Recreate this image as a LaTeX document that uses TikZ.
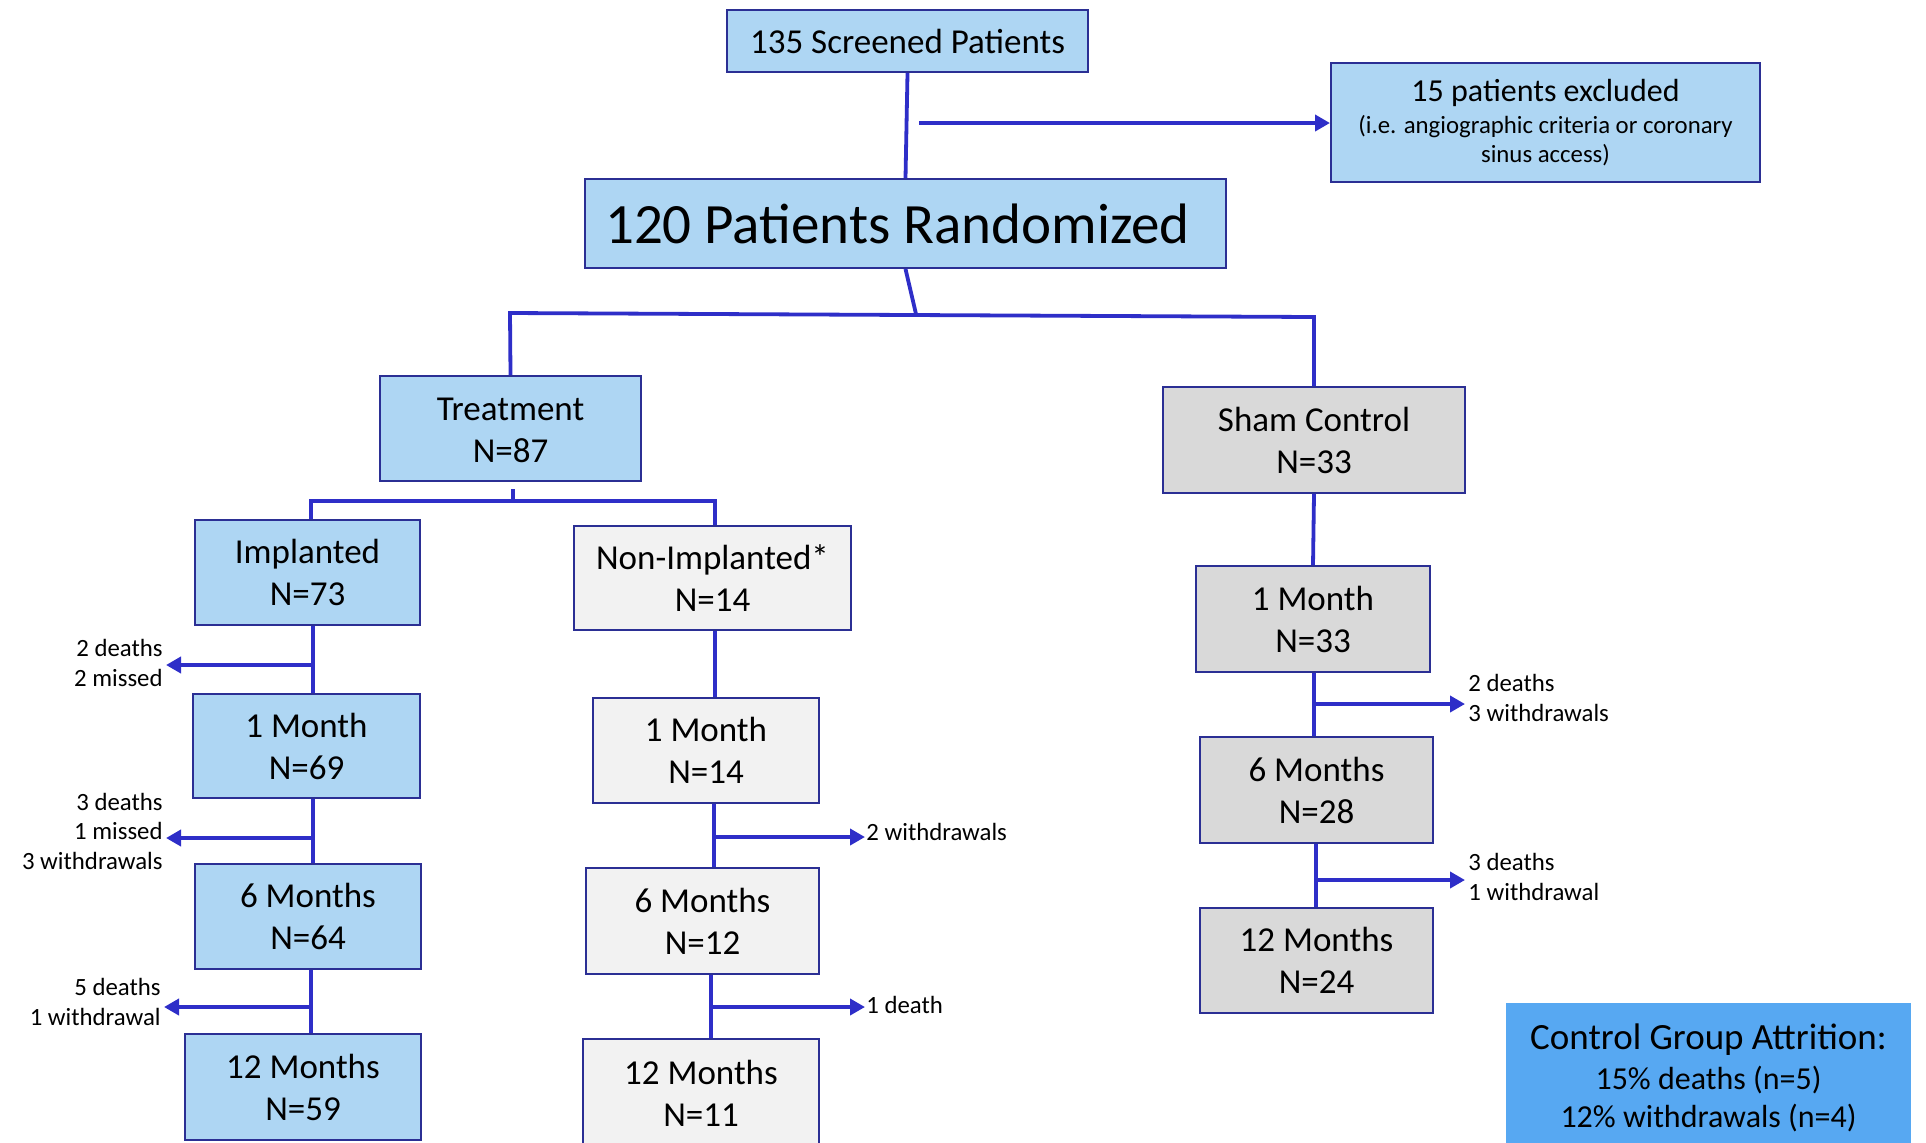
\documentclass[tikz,border=0pt]{standalone}
\usepackage{fontspec}
\setmainfont{Carlito}
\usetikzlibrary{arrows.meta}
\definecolor{lblue}{HTML}{AED6F3}
\definecolor{lgrey}{HTML}{F2F2F2}
\definecolor{mgrey}{HTML}{D9D9D9}
\definecolor{attrc}{HTML}{57A8F2}
\definecolor{bordc}{HTML}{2B2F94}
\definecolor{connc}{HTML}{2E2EC8}
\tikzset{
  base/.style={draw=bordc, line width=1pt, inner sep=0pt, align=center, text=black,
    font=\fontsize{17.5}{21}\selectfont},
  bluebox/.style={base, fill=lblue},
  greybox/.style={base, fill=mgrey},
  lightbox/.style={base, fill=lgrey},
  wh/.style 2 args={minimum width=#1*0.5pt, minimum height=#2*0.5pt},
  conn/.style={draw=connc, line width=1.9pt},
  arr/.style={draw=connc, line width=1.9pt, -{Triangle[length=7.5pt,width=8pt]}},
  lblL/.style={anchor=east, align=right, inner sep=0pt, font=\fontsize{12.4}{14.75}\selectfont},
  lblR/.style={anchor=west, align=left, inner sep=0pt, font=\fontsize{12.4}{14.75}\selectfont}
}
\begin{document}
\begin{tikzpicture}[x=0.5pt,y=-0.5pt]
\useasboundingbox (0,0) rectangle (1926,1142);
\clip (0,0) rectangle (1926,1142);

% top
\node[bluebox, wh={361}{62}] (scr) at (907.5,41) {135 Screened Patients};
\node[bluebox, wh={429}{119}, font=\fontsize{12.4}{14.5}\selectfont] (excl) at (1545.5,122.5)
  {{\fontsize{16}{19}\selectfont 15 patients excluded}\\[1.8pt](i.e. angiographic criteria or coronary\\sinus access)};
\node[bluebox, wh={641}{89}, font=\fontsize{28.5}{33}\selectfont] (rand) at (905.5,223.5) {120 Patients Randomized\hspace*{8pt}};

% groups
\node[bluebox, wh={261}{105}] (treat) at (510.5,428.5) {\\[-7.5pt]Treatment\\N=87};
\node[greybox, wh={302}{106}] (sham) at (1314,440) {Sham Control\\N=33};

% implanted column
\node[bluebox, wh={225}{105}] (impl) at (307.5,572.5) {Implanted\\N=73};
\node[bluebox, wh={227}{104}] (i1) at (306.5,746) {1 Month\\N=69};
\node[bluebox, wh={226}{105}] (i6) at (308,916.5) {6 Months\\N=64};
\node[bluebox, wh={236}{106}] (i12) at (303,1087) {12 Months\\N=59};

% non-implanted column
\node[lightbox, wh={277}{104}] (nonimpl) at (712.5,578) {Non-Implanted*\\N=14};
\node[lightbox, wh={226}{105}] (n1) at (706,750.5) {1 Month\\N=14};
\node[lightbox, wh={233}{106}] (n6) at (702.5,921) {6 Months\\N=12};
\node[lightbox, wh={236}{108}] (n12) at (701,1093) {12 Months\\N=11};

% sham column
\node[greybox, wh={234}{106}] (s1) at (1313,619) {1 Month\\N=33};
\node[greybox, wh={233}{106}] (s6) at (1316.5,790) {6 Months\\N=28};
\node[greybox, wh={233}{105}] (s12) at (1316.5,960.5) {12 Months\\N=24};

% attrition box
\node[base, draw=none, fill=attrc, wh={405}{150}, font=\fontsize{16}{19}\selectfont] (attr) at (1708.5,1078)
  {{\fontsize{18.5}{22}\selectfont Control Group Attrition:}\\[1.3pt]15\% deaths (n=5)\\12\% withdrawals (n=4)};

% side labels
\node[lblL] (l1) at (163,663) {2 deaths\\2 missed};
\node[lblL] (l2) at (163,831) {3 deaths\\1 missed\\3 withdrawals};
\node[lblL] (l3) at (161,1002) {5 deaths\\1 withdrawal};
\node[lblR] (r1) at (866,832) {2 withdrawals};
\node[lblR] (r2) at (866,1005) {1 death};
\node[lblR] (r3) at (1468,698) {2 deaths\\3 withdrawals};
\node[lblR] (r4) at (1468,877) {3 deaths\\1 withdrawal};

% coordinates
\coordinate (exA) at (919,123);
\coordinate (rs) at (916,314);
\coordinate (bl) at (510,313);
\coordinate (br) at (1314,317);
\coordinate (tsl) at (311,501);
\coordinate (tsr) at (715,501);
\coordinate (tst) at (513,489);
\coordinate (j1) at (313,665);
\coordinate (j2) at (313,838);
\coordinate (j3) at (311,1007);
\coordinate (k0) at (715,600);
\coordinate (k1) at (714,837);
\coordinate (k2) at (711,1007);
\coordinate (m1) at (1314,704);
\coordinate (m2) at (1316,880);

% top connectors
\draw[conn] (scr.south) -- (rand.north);
\draw[arr] (exA) -- (excl.west |- exA);
\draw[conn] (rand.south) -- (rs);
\draw[conn] (treat.north) -- (bl) -- (br) -- (sham.north);
\draw[conn] (impl.north -| tsl) -- (tsl) -- (tsr) -- (nonimpl.north -| tsr);
\draw[conn] (tst) -- (tst |- tsl);

% implanted chain
\draw[conn] (impl.south -| j1) -- (i1.north -| j1);
\draw[arr, shorten >=1.5pt] (j1) -- (j1 -| l1.east);
\draw[conn] (i1.south -| j2) -- (i6.north -| j2);
\draw[arr, shorten >=1.5pt] (j2) -- (j2 -| l2.east);
\draw[conn] (i6.south -| j3) -- (i12.north -| j3);
\draw[arr, shorten >=1.5pt] (j3) -- (j3 -| l3.east);

% non-implanted chain
\draw[conn] (nonimpl.south -| k0) -- (n1.north -| k0);
\draw[conn] (n1.south -| k1) -- (n6.north -| k1);
\draw[arr, shorten >=0.5pt] (k1) -- (k1 -| r1.west);
\draw[conn] (n6.south -| k2) -- (n12.north -| k2);
\draw[arr, shorten >=0.5pt] (k2) -- (k2 -| r2.west);

% sham chain
\draw[conn] (sham.south) -- (s1.north);
\draw[conn] (s1.south -| m1) -- (s6.north -| m1);
\draw[arr, shorten >=1.5pt] (m1) -- (m1 -| r3.west);
\draw[conn] (s6.south -| m2) -- (s12.north -| m2);
\draw[arr, shorten >=1.5pt] (m2) -- (m2 -| r4.west);
\end{tikzpicture}
\end{document}
